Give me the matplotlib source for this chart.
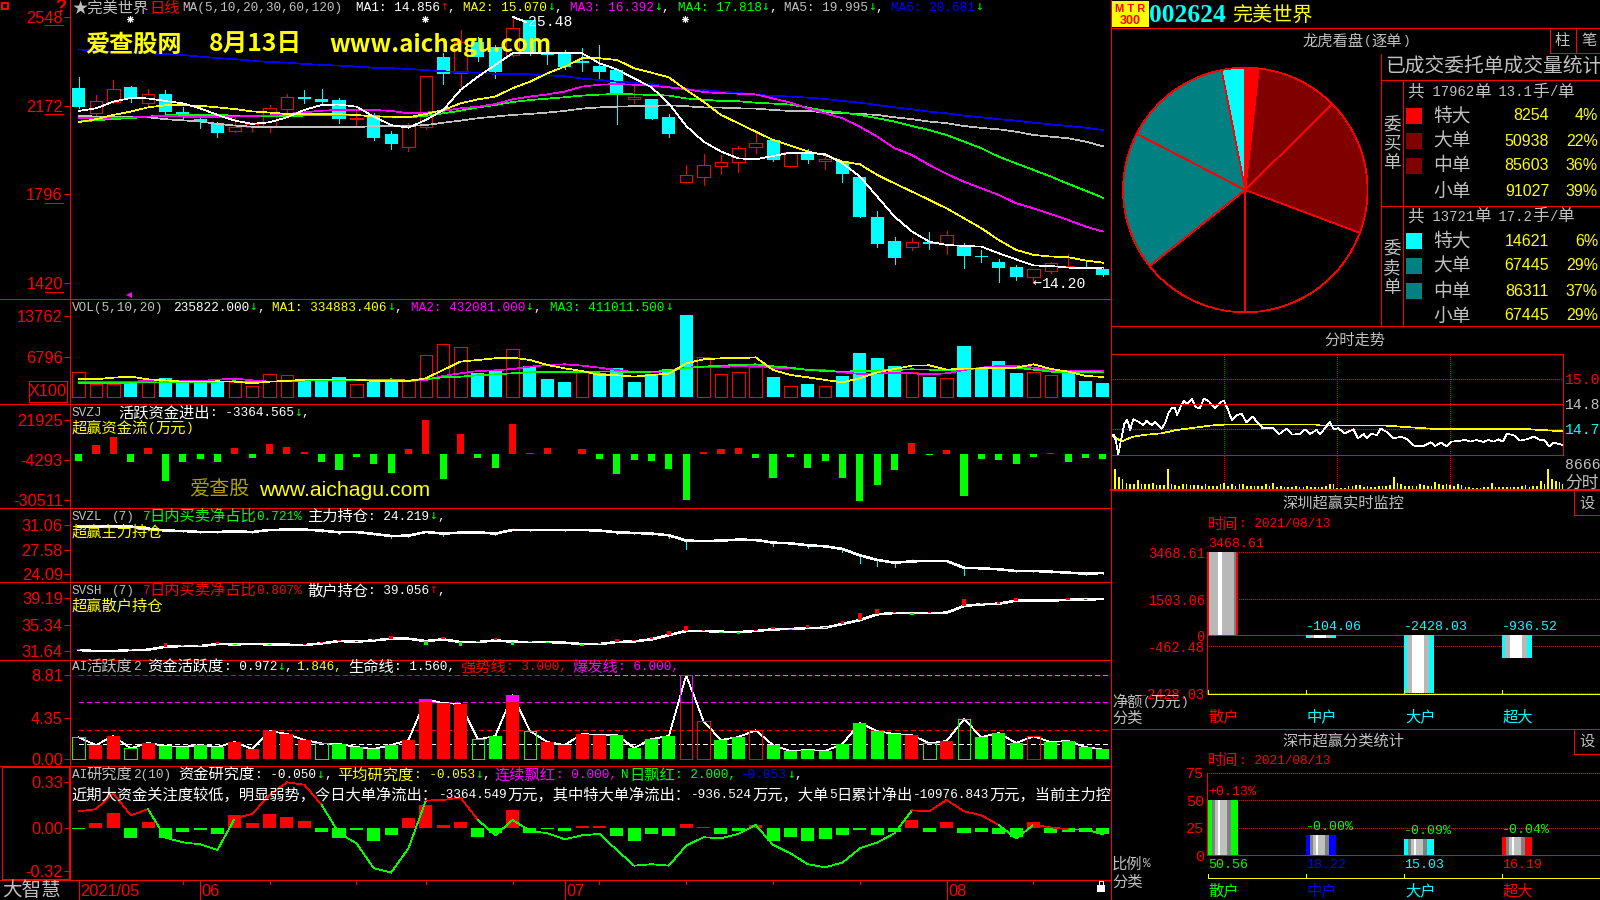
#!/usr/bin/env python
import numpy as np
import matplotlib
matplotlib.use('Agg')
import matplotlib.pyplot as plt
from matplotlib.patches import Rectangle

# daily candles, 2021/05 - 2021/08
OPEN = [22.47,21.43,21.89,22.51,21.85,22.22,21.46,21.16,20.98,20.66,20.81,20.82,21.60,22.08,22.01,21.96,21.16,21.26,20.52,19.99,
        20.81,23.79,23.09,24.43,24.22,23.87,25.35,23.97,23.90,23.62,23.40,23.23,21.99,22.01,21.24,18.50,18.72,19.18,19.35,19.99,
        20.27,19.18,19.75,19.37,19.38,18.70,17.01,15.99,15.75,15.95,15.84,15.77,15.37,15.10,14.89,14.48,14.73,14.88,14.89,14.80]
CLOSE = [21.67,21.91,22.42,21.99,22.20,21.47,21.29,21.06,20.58,20.81,20.93,21.61,22.08,22.01,21.89,21.17,21.19,20.37,20.11,20.86,
         22.97,23.08,24.43,23.80,23.16,25.00,23.94,23.88,23.38,23.55,23.15,22.25,22.08,21.17,20.52,18.77,19.20,19.32,19.92,20.13,
         19.42,19.75,19.42,19.45,18.83,16.99,15.86,15.27,15.93,15.86,16.23,15.36,15.31,14.85,14.47,14.79,15.05,14.92,14.83,14.55]
HIGH = [22.92,22.18,22.81,22.56,22.43,22.39,21.65,21.33,21.05,21.29,21.05,21.74,22.22,22.39,22.43,22.03,21.54,21.40,20.64,20.98,
        22.97,23.94,24.93,24.62,24.29,25.48,25.35,24.51,24.08,24.17,24.29,23.23,22.56,22.01,21.37,19.21,19.68,19.63,20.02,20.66,
        20.27,19.78,19.87,19.56,19.38,18.70,17.26,16.16,16.12,16.37,16.41,15.91,15.61,15.23,14.97,14.79,15.10,15.44,15.19,14.90]
LOW = [21.61,21.23,21.82,21.89,21.71,21.37,21.12,20.78,20.41,20.61,20.66,20.61,21.37,21.85,21.79,21.00,20.92,20.27,19.90,19.80,
       20.72,22.64,22.50,23.63,22.90,23.83,23.87,23.49,23.29,23.19,22.90,20.96,21.85,21.17,20.41,18.46,18.36,18.84,18.91,19.73,
       19.38,19.14,19.30,19.04,18.49,16.99,15.74,15.02,15.61,15.65,15.44,14.85,15.10,14.25,14.34,14.20,14.64,14.88,14.83,14.51]

MA1 = [21.50,21.61,21.89,22.05,22.03,21.92,21.82,21.61,21.33,21.09,20.95,21.02,21.23,21.54,21.75,21.77,21.68,21.26,20.90,20.79,
       21.12,21.54,22.39,22.95,23.45,23.94,23.97,23.94,23.94,23.94,23.52,23.26,22.88,22.50,21.82,20.86,20.20,19.78,19.49,19.45,
       19.59,19.73,19.73,19.66,19.28,18.72,17.87,17.02,16.39,15.96,15.82,15.78,15.75,15.47,15.21,14.95,14.93,14.86,14.83,14.86]
MA2 = [21.02,21.15,21.33,21.47,21.65,21.74,21.74,21.72,21.65,21.58,21.48,21.43,21.37,21.37,21.37,21.36,21.33,21.26,21.26,21.23,
       21.37,21.54,21.82,21.99,22.11,22.46,22.74,23.09,23.38,23.73,23.73,23.66,23.31,23.12,22.92,22.39,21.89,21.33,20.98,20.62,
       20.27,20.03,19.78,19.63,19.35,19.24,18.79,18.43,18.08,17.73,17.37,16.95,16.53,16.03,15.61,15.40,15.33,15.30,15.16,15.07]
MA3 = [21.19,21.19,21.22,21.22,21.26,21.29,21.26,21.23,21.23,21.26,21.29,21.31,21.37,21.44,21.51,21.54,21.54,21.54,21.50,21.40,
       21.43,21.50,21.61,21.68,21.79,21.99,22.11,22.20,22.32,22.53,22.61,22.64,22.61,22.57,22.50,22.42,22.30,22.25,22.23,22.20,
       22.03,21.85,21.61,21.40,21.19,20.83,20.41,19.92,19.63,19.21,18.83,18.50,18.22,17.94,17.59,17.37,17.13,16.88,16.60,16.39]
MA4 = [21.05,21.10,21.16,21.19,21.26,21.31,21.34,21.34,21.33,21.30,21.29,21.29,21.29,21.30,21.33,21.33,21.31,21.29,21.23,21.23,
       21.29,21.40,21.51,21.65,21.75,21.88,21.96,22.02,22.08,22.15,22.19,22.22,22.20,22.18,22.15,22.03,21.98,21.92,21.91,21.85,
       21.81,21.77,21.64,21.51,21.43,21.33,21.19,21.05,20.86,20.69,20.48,20.20,19.92,19.56,19.28,19.00,18.72,18.41,18.12,17.82]
MA5 = [21.30,21.26,21.26,21.23,21.23,21.15,21.10,21.05,20.95,20.88,20.83,20.81,20.81,20.81,20.81,20.81,20.81,20.86,20.86,20.86,
       20.90,21.00,21.09,21.19,21.26,21.33,21.37,21.43,21.50,21.60,21.65,21.68,21.70,21.71,21.74,21.70,21.65,21.64,21.61,21.60,
       21.54,21.50,21.50,21.44,21.40,21.37,21.33,21.23,21.15,21.05,20.98,20.86,20.78,20.72,20.62,20.48,20.41,20.34,20.20,20.00]
MA6 = [24.11,24.04,23.98,23.94,23.94,23.91,23.87,23.80,23.74,23.69,23.63,23.57,23.55,23.49,23.45,23.42,23.38,23.33,23.31,23.28,
       23.23,23.18,23.15,23.12,23.07,23.05,23.05,23.01,22.97,22.87,22.81,22.74,22.70,22.64,22.51,22.42,22.39,22.32,22.26,22.20,
       22.13,22.11,22.06,22.01,21.92,21.85,21.75,21.65,21.57,21.47,21.40,21.30,21.23,21.15,21.09,21.00,20.93,20.86,20.79,20.69]
PRICE_TICKS = [14.20, 17.96, 21.72, 25.48]
PRICE_LABELS = ['1420', '1796', '2172', '2548']

VOL = [4132,2151,2151,2434,2434,3170,2264,2434,2434,2434,1755,3792,3622,2660,2660,3339,2094,2547,2547,2660,
       7018,8999,8377,4019,4358,8037,5207,3000,2490,4132,4019,4811,2490,3792,4698,13867,6679,3792,4132,4981,
       3339,1755,2151,1755,3509,7415,6566,5207,4132,3339,3113,8603,4811,6056,4019,4132,3622,4019,2660,2358]
VOL_COLOR = 'rrrcrccccr' 'rrrcccrccr' 'rrrccrcccr' 'ccccccrrrr' 'crcrccccrc' 'rccccrrccc'
VOL_MA1 = [2943,2943,3226,3396,2943,2773,2547,2547,2604,2547,2264,2547,2660,2887,2887,2887,2887,2660,2660,2660,
           3113,4528,5943,6226,6509,6622,6226,5377,4811,4358,3679,3622,3396,3679,3905,5660,6339,6509,6509,6679,
           4528,3679,3283,2830,2434,3113,4132,4698,5264,5320,4585,4754,4811,4811,4924,5490,4698,4245,3509,3349]
VOL_MA2 = [2547,2547,2547,2547,2660,2773,2660,2660,2887,3056,2773,2547,2660,2773,2773,2773,2773,2773,2660,2660,
           2830,3509,3962,4358,4471,4698,5094,5377,5490,5264,4924,4528,4132,4132,4358,4924,5094,4981,5207,5264,
           4924,4811,4585,4471,4132,3849,3962,3962,3962,3792,3962,4528,4924,5207,5207,4924,4528,4358,4358,4321]
VOL_MA3 = [2264,2264,2321,2377,2377,2434,2434,2490,2547,2604,2434,2547,2660,2717,2773,2773,2773,2830,2943,2717,
           3000,3283,3396,3622,3792,3962,4132,4132,4132,4132,4245,4245,4188,4245,4358,4868,5094,5264,5377,5490,
           5151,4924,4528,4358,4245,4358,4415,4528,4641,4585,4471,4698,4811,4924,4924,4585,4245,4132,4245,4110]

SVZJ = [-4720,5768,11012,-5157,3583,-17611,-5157,-3409,-5157,3583,-2753,6424,4457,1180,-5157,-10400,-1879,-6686,-12586,3146,
        21937,-16300,12760,-2753,-9090,19533,524,3802,-350,3146,-3409,-13241,-4064,-4720,-9964,-30284,1180,3146,3802,-2753,
        -15863,-2098,-9308,-4720,-15863,-30939,-20451,-10619,7079,-568,2491,-27662,-3409,-4064,-6686,-2098,524,-5375,-2753,-3365]

SVZL = [30.87,30.87,30.87,30.87,30.58,30.30,30.25,30.10,30.10,30.20,30.10,30.39,30.44,30.44,30.30,30.06,30.10,29.82,29.53,29.58,
        30.10,29.87,30.01,30.06,29.87,30.39,30.39,30.39,30.39,30.39,30.30,30.06,29.96,29.87,29.63,28.86,28.82,28.86,29.01,28.96,
        28.58,28.48,28.20,28.05,27.67,26.76,26.10,25.71,25.90,25.95,25.95,24.98,24.90,24.76,24.52,24.52,24.42,24.28,24.14,24.22]
SVZL_TICK = [0,0,.15,0,.1,-.1,-.1,-.15,-.1,.1,-.1,.1,.1,.1,-.15,-.3,-.15,-.2,-.3,-.2,.2,-.3,.2,.1,-.2,.25,-.1,.15,-.1,.15,
             -.1,-.3,-.1,-.2,-.4,-1.15,.1,.15,.2,-.1,-.5,-.05,-.4,-.1,-.5,-1.15,-.85,-.6,.3,.1,.2,-1.0,-.1,-.1,-.2,-.1,-.2,-.1,-.2,-.1]
SVSH = [31.83,31.68,31.68,31.83,31.87,32.30,32.39,32.39,32.68,32.63,32.68,32.63,32.58,32.53,32.77,33.10,33.01,33.19,33.43,33.43,
        33.10,33.34,32.96,32.96,33.19,33.01,32.96,32.96,32.86,32.68,32.68,32.96,33.05,33.34,33.95,34.52,34.52,34.42,34.37,34.52,
        34.75,34.80,34.94,34.99,35.51,36.07,36.88,37.06,37.06,37.06,37.11,38.06,38.29,38.39,38.81,38.81,38.81,38.95,38.95,39.06]
SVSH_TICK = [.1,-.05,0,.15,-.05,.5,.15,.15,.35,-.05,.05,-.15,-.05,.1,.2,.1,.1,.2,.4,-.1,-.55,.3,-.5,.2,.35,-.5,.2,-.2,-.1,-.3,
             .1,.4,.2,.35,.55,.7,.1,-.2,-.25,.15,.35,-.1,.4,.1,.4,1.0,.8,.2,-.25,.1,-.1,1.05,.25,.25,.4,-.1,-.1,.2,.15,0]

ACTIVE = [2.26,1.44,2.40,1.09,1.66,1.34,1.23,1.44,1.23,1.76,1.02,2.92,2.61,1.97,1.62,1.55,1.23,1.02,1.44,1.97,
          6.27,5.88,5.78,2.04,2.40,6.73,2.92,1.76,1.44,2.61,2.50,2.50,1.13,2.08,2.40,8.81,3.95,1.97,2.29,3.00,
          1.44,0.81,0.92,0.81,1.55,3.77,2.92,2.61,2.50,1.62,1.87,4.16,2.29,2.71,1.66,2.36,1.76,1.87,1.23,0.97]
# r/g solid, R/G hollow
ACTIVE_KIND = 'GrrGrggggr' 'rrrrGggggr' 'rrrGgrGrrr' 'rggggRRggR' 'ggggggggrG' 'rGgggRgggg'

RESEARCH_BAR = [-.007,.034,.107,-.075,.041,-.075,-.032,-.017,-.046,.092,.034,.10,.078,.049,-.032,-.075,-.017,-.097,-.053,.07,
                .165,.019,.041,-.068,-.039,.129,-.039,-.01,-.024,.012,.012,-.061,-.097,-.046,-.061,.027,.005,-.046,-.024,.019,
                -.097,-.068,-.097,-.083,-.053,-.017,-.053,-.032,.056,-.032,.041,-.039,-.032,-.046,-.068,.041,-.039,-.032,-.032,-.05]
RESEARCH_LINE = [.119,.134,.25,.09,.134,-.073,-.107,-.122,-.163,.068,.10,.238,.33,.313,.165,-.041,-.114,-.296,-.328,-.151,
                 .197,.202,.219,.056,-.056,.056,-.024,-.041,-.085,-.056,-.046,-.163,-.277,-.267,-.277,-.131,-.07,-.078,-.046,.019,
                 -.126,-.187,-.267,-.289,-.255,-.151,-.109,-.041,.126,.119,.202,.119,.09,.019,-.078,.019,.002,-.012,-.012,-.05]

DATE_MAJOR = [0, 7, 28, 50]
DATE_LABELS = ['2021/05', '06', '07', '08']
DATE_MINOR = [6, 11, 16, 20, 25, 30, 35, 40, 45, 55]

# pie: buy 特大 大 中 小, then sell 小 中 大 特大
BUY = [8254, 50938, 85603, 91027]
SELL = [14621, 67445, 86311, 67445]
BUY_PCT = ['4%', '22%', '36%', '39%']
SELL_PCT = ['6%', '29%', '37%', '29%']
ROW_NAMES = ['特大', '大单', '中单', '小单']

TICK_MIN = [0,1.4,2.5,3.7,5,7,8.5,10,11.7,14.3,17,18.8,21.4,23.2,25,26.7,28.5,30.3,32,33.8,35,36.8,38.6,40,42.7,45,47,49.2,52,55,57.7,59.8,
            62,64,66.5,69.2,71.9,75,78,80.4,86,89.2,93,96,100,103,105.5,109,110.8,113.5,116,118,120.5,124,128.5,131,134,135.6,138,141,143,146,
            150,154,157,161,165.7,169.6,172,175,178,180.7,184,188,190.5,194,197.5,200,203,205.5,208,210,213.5,217,220.5,224.4,227.6,230,232.6,234.7,237.4,240]
TICK_PRICE = [14.686,14.684,14.646,14.566,14.646,14.756,14.776,14.716,14.78,14.766,14.746,14.772,14.746,14.766,14.746,14.722,14.756,14.816,14.846,14.846,14.806,14.856,14.892,14.872,14.902,14.852,14.846,14.904,14.886,14.846,14.88,14.892,
              14.836,14.776,14.806,14.812,14.76,14.796,14.756,14.726,14.726,14.692,14.724,14.688,14.692,14.72,14.692,14.716,14.692,14.726,14.766,14.72,14.726,14.696,14.72,14.666,14.692,14.666,14.692,14.686,14.724,14.706,
              14.666,14.676,14.66,14.62,14.62,14.642,14.62,14.64,14.618,14.646,14.65,14.656,14.646,14.656,14.644,14.656,14.646,14.66,14.646,14.692,14.686,14.652,14.66,14.676,14.656,14.656,14.616,14.64,14.632,14.626]
AVG_MIN = [0,5.5,8.1,11.7,17,26.7,34.7,41.8,52.4,59.5,109,110.8,146,158.6,169.2,183.4,222.3,233.8,240]
AVG_PRICE = [14.686,14.646,14.66,14.676,14.686,14.696,14.716,14.726,14.742,14.748,14.748,14.742,14.742,14.732,14.724,14.72,14.72,14.712,14.708]
# volume every two minutes
TICK_VOL = [6820,7440,4340,3720,2232,1736,1736,3472,1736,1736,1736,2232,1488,1488,1488,7440,1984,1488,1240,1736,
            1984,1488,1488,1488,1240,1736,1240,992,1240,1736,2232,1240,1736,1240,1736,1984,992,992,992,992,
            1240,1736,992,2232,744,992,744,744,744,992,744,744,992,744,744,744,744,992,1736,1984,
            496,496,496,1240,1240,1488,1488,744,992,744,744,1240,992,1240,1488,4340,2232,1736,1240,992,
            992,992,1984,1488,1240,1240,2728,1984,1488,1736,1488,1240,1736,1488,744,744,496,496,496,744,
            744,2232,744,744,744,744,744,744,744,1240,1488,744,1240,1240,3100,1984,7440,3720,2976,2728,1736]

MONITOR_NAMES = ['散户', '中户', '大户', '超大']
MONITOR = [3468.61, -104.06, -2428.03, -936.52]
MONITOR_TICKS = [3468.61, 1503.06, 0, -462.48, -2428.03]
CLASS_VALUES = [50.56, 18.22, 15.03, 16.19]
CLASS_CHANGE = ['+0.13%', '-0.00%', '-0.09%', '-0.04%']

RED = '#ff0000'
CYAN = '#00ffff'
GREEN = '#00ff00'
YELLOW = '#ffff00'
MAGENTA = '#ff00ff'
BLUE = '#0000ff'
GRAY = '#c0c0c0'
WHITE = '#ffffff'
DARKRED = '#800000'
TEAL = '#008080'
THIN = 0.7
CURVE = 0.5

plt.rcParams['lines.antialiased'] = False
plt.rcParams['patch.antialiased'] = False
plt.rcParams['font.family'] = ['Liberation Sans', 'Noto Sans CJK SC', 'DejaVu Sans']
MONO = ['Liberation Mono', 'DejaVu Sans Mono']
CJK = ['Noto Sans CJK SC', 'DejaVu Sans']

fig = plt.figure(figsize=(16, 9), dpi=100, facecolor='black')


def panel(left, top, right, bottom):
    ax = fig.add_axes([left / 1600, 1 - bottom / 900, (right - left) / 1600, (bottom - top) / 900])
    ax.set_facecolor('black')
    for s in ax.spines.values():
        s.set_visible(False)
    ax.set_xticks([])
    return ax


def day_panel(top, bottom, ylim, ticks, labels=None):
    ax = panel(70.4, top, 1110, bottom)
    ax.set_xlim(-0.472, 59.41)
    ax.set_ylim(*ylim)
    ax.spines['left'].set_visible(True)
    ax.spines['left'].set_color(RED)
    ax.spines['left'].set_linewidth(THIN)
    ax.set_yticks(ticks)
    ax.set_yticklabels(labels if labels else [str(t) for t in ticks], color=RED, fontsize=11.8)
    ax.tick_params(axis='y', colors=RED, length=4, width=THIN, pad=1.5)
    return ax


# overlay in pixels, for frame lines and the text rows
fr = fig.add_axes([0, 0, 1, 1], zorder=10)
fr.set_xlim(0, 1600)
fr.set_ylim(900, 0)
fr.axis('off')
fr.patch.set_alpha(0)


def runs(x, y, parts, k=1.0):
    for s, c in parts:
        if s in '↑↓←':
            fr.text(x, y - 1, s, color=c, family='DejaVu Sans Mono', fontsize=9.2 * k, va='center', ha='left')
            x += 7.65 * k
            continue
        chunk = ''
        wide = None
        for ch in list(s) + [None]:
            w = None if ch is None else (ord(ch) > 0x2E7F or ch == '★')
            if w != wide:
                if chunk:
                    if wide:
                        fr.text(x, y, chunk, color=c, family=CJK, fontsize=11 * k, va='center', ha='left')
                        x += 15.3 * k * len(chunk)
                    else:
                        fr.text(x, y, chunk, color=c, family=MONO, fontsize=9.2 * k, va='center', ha='left')
                        x += 7.65 * k * len(chunk)
                chunk = ''
                wide = w
            if ch is not None:
                chunk += ch


def hline(y, x0=0, x1=1110, lw=THIN):
    fr.plot([x0, x1], [y, y], color=RED, lw=lw)


def vline(x, y0, y1, lw=THIN):
    fr.plot([x, x], [y0, y1], color=RED, lw=lw)


BARS = np.arange(60)

# main candles
ax = day_panel(0, 299, (13.53, 26.20), PRICE_TICKS, PRICE_LABELS)
for i in BARS:
    top, bot = max(OPEN[i], CLOSE[i]), min(OPEN[i], CLOSE[i])
    if CLOSE[i] >= OPEN[i]:
        ax.vlines(i, top, HIGH[i], color=RED, lw=THIN)
        ax.vlines(i, LOW[i], bot, color=RED, lw=THIN)
        ax.bar(i, top - bot, bottom=bot, width=0.72, fill=False, edgecolor=RED, lw=THIN)
    else:
        ax.vlines(i, LOW[i], HIGH[i], color=CYAN, lw=THIN)
        ax.bar(i, max(top - bot, 0.05), bottom=bot, width=0.75, color=CYAN, lw=0)
for ma, c in zip([MA5, MA6, MA4, MA3, MA2, MA1], [GRAY, BLUE, GREEN, MAGENTA, YELLOW, WHITE]):
    ax.plot(BARS, ma, color=c, lw=CURVE)

# volume
ax = day_panel(299, 404.3, (-1302, 16584), [6796, 13762])
for i in BARS:
    if VOL_COLOR[i] == 'r':
        ax.bar(i, VOL[i], width=0.72, fill=False, edgecolor=RED, lw=THIN)
    else:
        ax.bar(i, VOL[i], width=0.75, color=CYAN, lw=0)
ax.plot(BARS, VOL_MA2, color=MAGENTA, lw=CURVE)
ax.plot(BARS, VOL_MA3, color=GREEN, lw=CURVE)
ax.plot(BARS, VOL_MA1, color=YELLOW, lw=CURVE)

# fund flow
ax = day_panel(404.3, 508.3, (-35701, 32425), [-30511, -4293, 21925])
ax.bar(BARS, SVZJ, width=0.41, color=[RED if v > 0 else GREEN for v in SVZJ], lw=0)

# holdings
ax = day_panel(508.3, 582.3, (22.90, 33.49), [24.09, 27.58, 31.06], ['24.09', '27.58', '31.06'])
ax.vlines(BARS, SVZL, np.array(SVZL) + np.array(SVZL_TICK), color=[RED if v > 0 else CYAN for v in SVZL_TICK], lw=THIN)
ax.plot(BARS, SVZL, color=WHITE, lw=1.1)

ax = day_panel(582.3, 659.7, (30.46, 41.41), [31.64, 35.34, 39.19], ['31.64', '35.34', '39.19'])
ax.plot(BARS, SVSH, color=WHITE, lw=1.1)
ax.bar(BARS, SVSH_TICK, bottom=SVSH, width=0.2, color=[RED if v > 0 else GREEN for v in SVSH_TICK], lw=0, zorder=3)

# activity
DASH = (0, (5, 4))
ax = day_panel(659.7, 766.3, (-0.81, 10.47), [0, 4.35, 8.81], ['0.00', '4.35', '8.81'])
ax.plot([0, 59.41], [1.56, 1.56], color=WHITE, lw=THIN, ls=DASH)
ax.plot([0, 59.41], [3.0, 3.0], color=RED, lw=THIN, ls=DASH)
ax.plot([0, 59.41], [6.0, 6.0], color=MAGENTA, lw=THIN, ls=DASH)
ax.plot([0, 30], [8.81, 8.81], color=RED, lw=THIN, ls=DASH)
ax.plot([30, 59.41], [8.81, 8.81], color=GREEN, lw=THIN, ls=DASH)
ax.plot(BARS, ACTIVE, color=WHITE, lw=CURVE)
for i in BARS:
    v = ACTIVE[i]
    kind = ACTIVE_KIND[i]
    if kind == 'r':
        ax.bar(i, min(v, 6), width=0.75, color=RED, lw=0, zorder=3)
        if v > 6:
            ax.bar(i, v - 6, bottom=6, width=0.75, color=MAGENTA, lw=0, zorder=3)
    elif kind == 'g':
        ax.bar(i, v, width=0.75, color=GREEN, lw=0, zorder=3)
    elif kind == 'G':
        ax.bar(i, v, width=0.72, fill=False, edgecolor=GREEN, lw=THIN, zorder=3)
    else:
        ax.bar(i, min(v, 6), width=0.72, fill=False, edgecolor=RED, lw=THIN, zorder=3)
        if v > 6:
            ax.bar(i, v - 6, bottom=6, width=0.72, fill=False, edgecolor=MAGENTA, lw=THIN, zorder=3)

# research
ax = day_panel(766.3, 880, (-0.382, 0.447), [-0.32, 0, 0.33], ['-0.32', '0.00', '0.33'])
ax.bar(BARS, RESEARCH_BAR, width=0.75, color=[RED if v > 0 else GREEN for v in RESEARCH_BAR], lw=0)
for i in BARS[:-1]:
    c = RED if RESEARCH_LINE[i] > 0 and RESEARCH_LINE[i + 1] > -0.02 else GREEN
    ax.plot([i, i + 1], RESEARCH_LINE[i:i + 2], color=c, lw=CURVE, zorder=4)

# date strip
ax = panel(70.4, 880, 1110, 900)
ax.set_xlim(-0.472, 59.41)
ax.set_ylim(0, 1)
ax.set_yticks([])
ax.vlines(DATE_MAJOR, 0, 1, color=RED, lw=THIN)
ax.vlines(DATE_MINOR, 0.8, 1, color=RED, lw=THIN)
for d, s in zip(DATE_MAJOR, DATE_LABELS):
    ax.text(d + 0.1, 0.44, s, color=RED, fontsize=11.8, va='center', ha='left')

# pie
ax = panel(1245.3 - 123.5, 190 - 123.5, 1245.3 + 123.5, 190 + 123.5)
ax.set_yticks([])
ax.pie(BUY + SELL[::-1], colors=[RED, DARKRED, DARKRED, 'black', 'black', TEAL, TEAL, CYAN], startangle=90,
       counterclock=False, radius=1.0, wedgeprops=dict(edgecolor=RED, linewidth=CURVE))
ax.set_xlim(-1.01, 1.01)
ax.set_ylim(-1.01, 1.01)

# intraday
ax = panel(1111.3, 354.3, 1563.3, 455.3)
ax.set_xlim(0, 240)
ax.set_ylim(14.564, 15.17)
ax.hlines([14.72, 15.02], 0, 240, color=RED, lw=THIN, ls=':')
ax.vlines([60, 120, 180], 14.564, 15.17, color=RED, lw=THIN, ls=':')
ax.plot(AVG_MIN, AVG_PRICE, color=YELLOW, lw=CURVE, zorder=3)
ax.plot(TICK_MIN, TICK_PRICE, color=WHITE, lw=CURVE, zorder=3)
ax.set_yticks([])

ax = panel(1111.3, 455.3, 1563.3, 490)
ax.set_xlim(0, 240)
ax.set_ylim(-372, 12524)
ax.set_yticks([])
ax.vlines([60, 120, 180], -372, 12524, color=RED, lw=THIN, ls=':')
ax.bar(np.arange(len(TICK_VOL)) * 2, TICK_VOL, width=0.9, color=YELLOW, lw=0, zorder=3)


def striped(ax, x0, v, stripes):
    w = 0.306
    for a, b, c in stripes:
        ax.bar(x0 + w * a, v, width=w * (b - a), align='edge', color=c, lw=0, zorder=3)


# realtime monitor
ax = panel(1206.7, 552.3, 1600, 694.3)
ax.set_xlim(-0.016, 3.997)
ax.set_ylim(-2465, 3468.61)
ax.spines['left'].set_visible(True)
ax.spines['left'].set_color(RED)
ax.spines['left'].set_linestyle(':')
ax.spines['left'].set_linewidth(THIN)
ax.set_yticks(MONITOR_TICKS)
ax.set_yticklabels(['3468.61', '1503.06', '0', '-462.48', '-2428.03'], color=RED, family=MONO, fontsize=9.8)
ax.tick_params(axis='y', length=0, pad=1.5)
ax.hlines([3468.61, 1503.06, -462.48, -2428.03], -0.016, 3.997, color=RED, lw=THIN, ls=':')
ax.axhline(0, color=RED, lw=THIN, zorder=2)
striped(ax, 0, MONITOR[0], [(0, .04, RED), (.04, .33, '#b8b8b8'), (.33, .47, WHITE), (.47, .86, '#b8b8b8'), (.86, .92, '#808080'), (.92, 1, RED)])
for i in [1, 2, 3]:
    striped(ax, i, MONITOR[i], [(0, .1, CYAN), (.1, .27, '#b8b8b8'), (.27, .67, WHITE), (.67, .84, '#b8b8b8'), (.84, 1, CYAN)])
fr.plot([1208.3, 1600], [694.3, 694.3], color=YELLOW, lw=THIN)
for x in [1208.3, 1306.3, 1404.3, 1502.3]:
    fr.plot([x, x], [690, 694.3], color=YELLOW, lw=THIN)

# class statistics
ax = panel(1206.7, 772.7, 1600, 855.3)
ax.set_xlim(-0.016, 3.997)
ax.set_ylim(0, 75)
ax.spines['left'].set_visible(True)
ax.spines['left'].set_color(RED)
ax.spines['left'].set_linestyle(':')
ax.spines['left'].set_linewidth(THIN)
ax.set_yticks([0, 25, 50, 75])
ax.set_yticklabels(['0', '25', '50', '75'], color=RED, family=MONO, fontsize=11)
ax.tick_params(axis='y', length=0, pad=1.5)
ax.hlines([25, 50, 75], -0.016, 3.997, color=RED, lw=THIN, ls=':')
for i, c in enumerate([GREEN, BLUE, CYAN, RED]):
    striped(ax, i, CLASS_VALUES[i], [(0, .12, c), (.12, .22, '#808080'), (.22, .33, '#c0c0c0'), (.33, .39, WHITE), (.39, .62, '#c0c0c0'), (.62, .76, '#808080'), (.76, 1, c)])
hline(855.3, 1206.7, 1600)

# frame
for y in [299, 404.3, 508.3, 582.3, 659.7, 766.3, 880]:
    hline(y)
vline(70.4, 0, 880)
vline(1110.7, 0, 900)
hline(28, 1111, 1600)
hline(326, 1111, 1600)
hline(404.3, 1111, 1563.3)
hline(354.3, 1111, 1563.3)
hline(455.3, 1111, 1563.3)
vline(1563.3, 354.3, 455.3)
hline(490, 1111, 1600, lw=1.4)
hline(728.5, 1111, 1600)
vline(1380.7, 54, 326)
hline(80, 1382, 1600)
hline(205.5, 1382, 1600)
vline(1403, 80, 326)
vline(1550, 28, 53)
vline(1576, 28, 53)
hline(53, 1550, 1600)
vline(1574, 490, 515)
hline(515, 1574, 1600)
vline(1574, 728.5, 754)
hline(754, 1574, 1600)
for y in [25, 114.3, 203, 292.3]:
    fr.plot([45, 63], [y, y], color=RED, lw=THIN)
fr.add_patch(Rectangle((28.5, 380.7), 38.5, 21, fill=False, edgecolor=RED, lw=THIN))
fr.add_patch(Rectangle((1.8, 767.3), 66.8, 111.7, fill=False, edgecolor=RED, lw=THIN))
fr.text(48, 391, 'X100', color=RED, fontsize=11.8, va='center', ha='center')
fr.add_patch(Rectangle((2, 3), 6, 6, fill=False, edgecolor=RED, lw=1.4))
fr.text(61, 7, '?', color=RED, fontsize=13, weight='bold', va='center', ha='center')
fr.plot([129], [295], marker='<', color=MAGENTA, ms=4, mew=0)
for x in [130, 425, 685]:
    fr.plot([x], [19], marker=(8, 2, 0), color=WHITE, ms=5, mew=THIN)

# top row of the day chart
DN = ('↓', GREEN)
UP = ('↑', RED)
runs(72.5, 8, [('★完美世界', GRAY), ('日线', RED)])
runs(182, 8, [('MA(5,10,20,30,60,120)', GRAY)])
runs(356, 8, [('MA1: 14.856', WHITE), UP, (', ', WHITE)])
runs(463, 8, [('MA2: 15.070', YELLOW), DN, (',', WHITE)])
runs(570, 8, [('MA3: 16.392', MAGENTA), DN, (',', WHITE)])
runs(677.5, 8, [('MA4: 17.818', GREEN), DN, (',', WHITE)])
runs(784, 8, [('MA5: 19.995', GRAY), DN, (',', WHITE)])
runs(891, 8, [('MA6: 20.681', BLUE), DN])
fr.text(85, 45, '爱查股网', color=YELLOW, family=CJK, fontsize=17.4, weight='bold', va='center', ha='left')
fr.text(209, 45, '8月13日', color=YELLOW, family=CJK, fontsize=17.8, weight='bold', va='center', ha='left')
fr.text(329, 45, 'www.aichagu.com', color=YELLOW, family=CJK, fontsize=17.3, weight='bold', va='center', ha='left')
fr.plot([513, 526], [17, 22], color=WHITE, lw=THIN)
runs(528, 22, [('25.48', WHITE)], 1.15)
runs(1033, 283.7, [('←', WHITE)], 1.15)
runs(1042, 283.7, [('14.20', WHITE)], 1.15)

runs(71.5, 307.7, [('VOL(5,10,20)', GRAY)])
runs(173, 307.7, [('235822.000', WHITE), DN, (',', WHITE)])
runs(272, 307.7, [('MA1: 334883.406', YELLOW), DN, (',', WHITE)])
runs(410.7, 307.7, [('MA2: 432081.000', MAGENTA), DN, (',', WHITE)])
runs(550, 307.7, [('MA3: 411011.500', GREEN), DN])

runs(71.5, 413, [('SVZJ', GRAY)])
runs(118, 413, [('活跃资金进出: -3364.565', WHITE), DN, (',', WHITE)])
runs(71.5, 428, [('超赢资金流(万元)', YELLOW)])
fr.text(189, 490, '爱查股', color='#b0a000', family=CJK, fontsize=14.5, va='center', ha='left')
fr.text(259, 490, 'www.aichagu.com', color=YELLOW, fontsize=15.3, va='center', ha='left')

runs(71.5, 516.7, [('SVZL', GRAY)])
runs(112, 516.7, [('(7)', GRAY)])
runs(141.8, 516.7, [('7日内买卖净占比0.721%', GREEN)])
runs(307, 516.7, [('主力持仓: 24.219', WHITE), DN, (',', WHITE)])
runs(71.5, 531.7, [('超赢主力持仓', YELLOW)])

runs(71.5, 590.7, [('SVSH', GRAY)])
runs(112, 590.7, [('(7)', GRAY)])
runs(141.8, 590.7, [('7日内买卖净占比0.807%', RED)])
runs(307, 590.7, [('散户持仓: 39.056', WHITE), UP, (',', WHITE)])
runs(71.5, 606, [('超赢散户持仓', YELLOW)])

runs(71.5, 667.3, [('AI活跃度2', GRAY)])
runs(147, 667.3, [('资金活跃度: 0.972', WHITE), DN, (',', WHITE)])
runs(296.4, 667.3, [('1.846,', YELLOW)])
runs(348, 667.3, [('生命线: 1.560,', WHITE)])
runs(460, 667.3, [('强势线: 3.000,', RED)])
runs(572, 667.3, [('爆发线: 6.000,', MAGENTA)])

runs(71.5, 775, [('AI研究度2(10)', GRAY)])
runs(178.6, 775, [('资金研究度: -0.050', WHITE), DN, (',', WHITE)])
runs(337.5, 775, [('平均研究度: -0.053', YELLOW), DN, (',', WHITE)])
runs(494.6, 775, [('连续飘红: 0.000,', MAGENTA)])
runs(621.4, 775, [('N日飘红: 2.000,', GREEN)])
runs(741, 775, [('-0.053', BLUE), DN, (',', WHITE)])
long_text = '近期大资金关注度较低，明显弱势，今日大单净流出：-3364.549万元，其中特大单净流出：-936.524万元，大单5日累计净出-10976.843万元，当前主力控'
runs(71.4, 795, [(long_text, WHITE)])

runs(2, 890, [('大智慧', GRAY)], 1.28)

# stock title and side table
fr.add_patch(Rectangle((1111, 1), 38, 26, color=YELLOW, lw=0))
fr.text(1130, 8.5, 'M T R', color=RED, fontsize=8, weight='bold', va='center', ha='center')
fr.text(1130, 20.5, '300', color=RED, fontsize=9, weight='bold', va='center', ha='center')
fr.text(1149, 15, '002624', color=CYAN, family='Liberation Serif', fontsize=18.4, weight='bold', va='center', ha='left')
fr.text(1232, 15, '完美世界', color=YELLOW, family=CJK, fontsize=14.5, va='center', ha='left')
runs(1303, 41, [('龙虎看盘(逐单)', GRAY)])
runs(1555, 41, [('柱', GRAY)])
runs(1581, 41, [('笔', GRAY)])
runs(1385, 66, [('已成交委托单成交量统计', GRAY)], 1.29)
runs(1407, 92, [('共 17962单 13.1手/单', GRAY)], 1.09)
runs(1407, 217, [('共 13721单 17.2手/单', GRAY)], 1.09)
for ch, y in zip('委买单', [125, 144, 163]):
    runs(1383, y, [(ch, GRAY)], 1.15)
for ch, y in zip('委卖单', [249, 268, 288]):
    runs(1383, y, [(ch, GRAY)], 1.15)
for y0, vals, pct, colors in [(116, BUY, BUY_PCT, [RED, DARKRED, DARKRED, None]),
                              (241, SELL, SELL_PCT, [CYAN, TEAL, TEAL, None])]:
    for i in range(4):
        y = y0 + i * 25
        if colors[i]:
            fr.add_patch(Rectangle((1406, y - 8), 16, 16, color=colors[i], lw=0))
        runs(1433, y, [(ROW_NAMES[i], GRAY)], 1.23)
        fr.text(1549, y, str(vals[i]), color=YELLOW, fontsize=11.5, va='center', ha='right')
        fr.text(1598, y, pct[i], color=YELLOW, fontsize=11.5, va='center', ha='right')

# intraday labels
runs(1324, 340, [('分时走势', GRAY)])
runs(1565, 380, [('15.02', RED)], 1.15)
runs(1565, 405, [('14.87', GRAY)], 1.15)
runs(1565, 430, [('14.72', CYAN)], 1.15)
runs(1565, 465, [('8666', GRAY)], 1.15)
runs(1565, 483, [('分时', GRAY)], 1.1)

# monitor labels
runs(1282, 503, [('深圳超赢实时监控', GRAY)])
runs(1579, 503, [('设', GRAY)])
runs(1208, 524, [('时间: 2021/08/13', RED)])
runs(1208, 544, [('3468.61', RED)], 1.04)
runs(1306, 627, [('-104.06', CYAN)], 1.04)
runs(1404, 627, [('-2428.03', CYAN)], 1.04)
runs(1502, 627, [('-936.52', CYAN)], 1.04)
runs(1112, 702, [('净额(万元)', GRAY)])
runs(1112, 718, [('分类', GRAY)])
for x, s, c in zip([1208, 1307, 1405, 1503], MONITOR_NAMES, [RED, CYAN, CYAN, CYAN]):
    runs(x, 717, [(s, c)])

# class labels
runs(1282, 741, [('深市超赢分类统计', GRAY)])
runs(1579, 741, [('设', GRAY)])
runs(1208, 761, [('时间: 2021/08/13', RED)])
for x, y, s, c in zip([1208, 1306, 1404, 1502], [792, 827, 831, 830], CLASS_CHANGE, [RED, GREEN, GREEN, GREEN]):
    runs(x, y, [(s, c)], 1.04)
for x, v, c in zip([1208, 1306, 1404, 1502], CLASS_VALUES, [GREEN, BLUE, CYAN, RED]):
    runs(x, 865, [('%.2f' % v, c)], 1.04)
fr.plot([1208.3, 1600], [878.3, 878.3], color=YELLOW, lw=THIN)
for x in [1208.3, 1306.3, 1404.3, 1502.3]:
    fr.plot([x, x], [874, 878.3], color=YELLOW, lw=THIN)
for x, s, c in zip([1208, 1307, 1405, 1503], MONITOR_NAMES, [GREEN, BLUE, CYAN, RED]):
    runs(x, 891, [(s, c)])
runs(1112, 864, [('比例%', GRAY)])
runs(1112, 882, [('分类', GRAY)])
fr.add_patch(Rectangle((1097, 885), 8, 7, color=WHITE, lw=0))
fr.plot([1099, 1099, 1103, 1103], [885, 881, 881, 885], color=WHITE, lw=THIN)

fig.savefig('out.png', dpi=100, facecolor='black')
